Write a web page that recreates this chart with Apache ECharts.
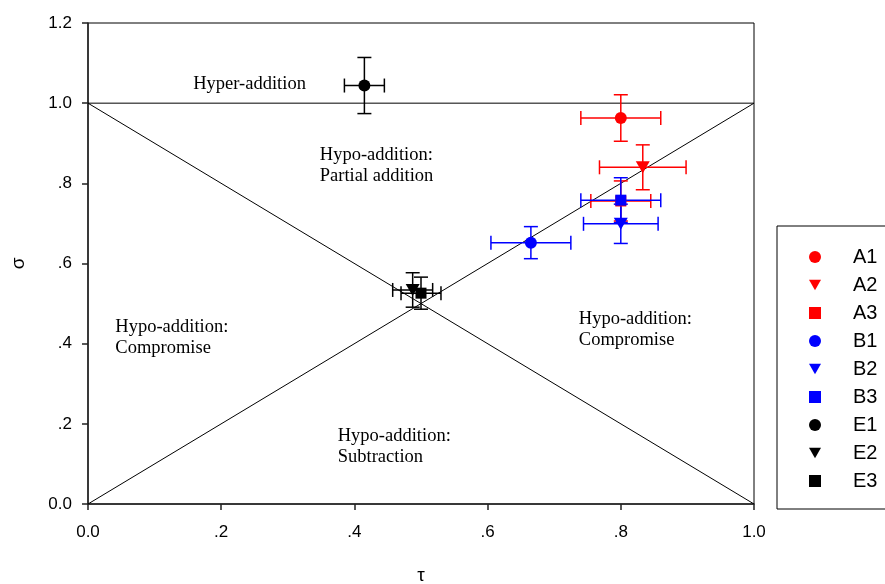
<!DOCTYPE html>
<html>
<head>
<meta charset="utf-8">
<script src="https://cdn.jsdelivr.net/npm/echarts@6/dist/echarts.min.js"></script>
<style>
  html, body { margin: 0; padding: 0; background: #fff; }
  #chart { width: 885px; height: 584px; }
</style>
</head>
<body>
<div id="chart"></div>
<script>
// Treatment groups and their mean (tau, sigma) with error half-widths
const groups = ['A1', 'A2', 'A3', 'B1', 'B2', 'B3', 'E1', 'E2', 'E3'];
const tauValues = [0.80, 0.833, 0.80, 0.665, 0.80, 0.80, 0.415, 0.4875, 0.50];
const sigmaValues = [0.963, 0.840, 0.756, 0.652, 0.699, 0.758, 1.044, 0.534, 0.526];
const tauErrors = [0.060, 0.065, 0.045, 0.060, 0.056, 0.060, 0.030, 0.030, 0.030];
const sigmaErrors = [0.058, 0.056, 0.050, 0.040, 0.049, 0.056, 0.070, 0.043, 0.040];

// Axis ticks
const xTicks = [0, 0.2, 0.4, 0.6, 0.8, 1.0];
const yTicks = [0, 0.2, 0.4, 0.6, 0.8, 1.0, 1.2];

// Boundary lines dividing the response regions
const boundaryLines = [
  [[0, 1], [1, 1]],
  [[0, 1], [1, 0]],
  [[0, 0], [1, 1]]
];

// Region annotations: [tau, sigma] of first line's left-middle, text lines
const regionLabels = [
  { at: [0.158, 1.048], lines: ['Hyper-addition'] },
  { at: [0.348, 0.871], lines: ['Hypo-addition:', 'Partial addition'] },
  { at: [0.041, 0.442], lines: ['Hypo-addition:', 'Compromise'] },
  { at: [0.737, 0.462], lines: ['Hypo-addition:', 'Compromise'] },
  { at: [0.375, 0.170], lines: ['Hypo-addition:', 'Subtraction'] }
];

const colorOf = g => g[0] === 'A' ? '#ff0000' : g[0] === 'B' ? '#0000ff' : '#000000';
const downTriangle = 'path://M0,0L10,0L5,8.66Z';
const symbolOf = g => g[1] === '1' ? 'circle' : g[1] === '2' ? downTriangle : 'rect';
const symbolSizeOf = g => g[1] === '1' ? 12 : g[1] === '2' ? [14, 12] : 11;

const fmtTick = v => {
  if (Math.abs(v) < 1e-9) return '0.0';
  if (Math.abs(v - 1) < 1e-9) return '1.0';
  if (Math.abs(v - 1.2) < 1e-9) return '1.2';
  return '.' + Math.round(v * 10);
};

function errorBarRenderer(color) {
  return function (params, api) {
    const x = api.value(0), y = api.value(1), ex = api.value(2), ey = api.value(3);
    const l = api.coord([x - ex, y]);
    const r = api.coord([x + ex, y]);
    const t = api.coord([x, y + ey]);
    const b = api.coord([x, y - ey]);
    const cap = 7;
    const style = { stroke: color, lineWidth: 1.5, fill: null };
    const seg = (x1, y1, x2, y2) => ({ type: 'line', shape: { x1, y1, x2, y2 }, style });
    return {
      type: 'group',
      children: [
        seg(l[0], l[1], r[0], r[1]),
        seg(l[0], l[1] - cap, l[0], l[1] + cap),
        seg(r[0], r[1] - cap, r[0], r[1] + cap),
        seg(t[0], t[1], b[0], b[1]),
        seg(t[0] - cap, t[1], t[0] + cap, t[1]),
        seg(b[0] - cap, b[1], b[0] + cap, b[1])
      ]
    };
  };
}

const series = [];

boundaryLines.forEach((pts, i) => {
  series.push({
    name: 'boundary' + i,
    type: 'line',
    data: pts,
    symbol: 'none',
    silent: true,
    lineStyle: { color: '#000', width: 1 },
    z: 1,
    animation: false
  });
});

series.push({
  name: 'regions',
  type: 'custom',
  silent: true,
  data: regionLabels.map(r => [r.at[0], r.at[1]]),
  renderItem: function (params, api) {
    const p = api.coord([api.value(0), api.value(1)]);
    const item = regionLabels[params.dataIndex];
    return {
      type: 'group',
      children: item.lines.map((txt, k) => ({
        type: 'text',
        x: p[0],
        y: p[1] + k * 21,
        style: {
          text: txt,
          fill: '#000',
          font: '18.5px "Liberation Serif", "Times New Roman", serif',
          textAlign: 'left',
          textVerticalAlign: 'middle'
        }
      }))
    };
  },
  z: 2,
  animation: false
});

groups.forEach((g, i) => {
  series.push({
    name: g + ' error',
    type: 'custom',
    silent: true,
    data: [[tauValues[i], sigmaValues[i], tauErrors[i], sigmaErrors[i]]],
    renderItem: errorBarRenderer(colorOf(g)),
    z: 3,
    animation: false
  });
  series.push({
    name: g,
    type: 'scatter',
    data: [[tauValues[i], sigmaValues[i]]],
    symbol: symbolOf(g),
    symbolSize: symbolSizeOf(g),
    itemStyle: { color: colorOf(g), opacity: 1 },
    z: 4,
    animation: false
  });
});

const chart = echarts.init(document.getElementById('chart'), null, { renderer: 'canvas' });
chart.setOption({
  animation: false,
  backgroundColor: '#fff',
  grid: {
    left: 88, right: 131, top: 23, bottom: 80,
    containLabel: false,
    outerBoundsMode: 'none',
    show: true, borderColor: '#000', borderWidth: 1, backgroundColor: 'transparent'
  },
  xAxis: {
    type: 'value',
    min: xTicks[0], max: xTicks[xTicks.length - 1], interval: 0.2,
    name: 'τ',
    nameLocation: 'middle',
    nameGap: 62,
    nameTextStyle: { fontSize: 19, color: '#000', fontFamily: '"Liberation Sans", Arial, sans-serif' },
    axisLine: { show: true, lineStyle: { color: '#222', width: 1.5 } },
    axisTick: { show: true, inside: false, length: 6, lineStyle: { color: '#222', width: 1.5 } },
    axisLabel: { formatter: fmtTick, fontSize: 17, color: '#000', margin: 20, fontFamily: '"Liberation Sans", Arial, sans-serif' },
    splitLine: { show: false }
  },
  yAxis: {
    type: 'value',
    min: yTicks[0], max: yTicks[yTicks.length - 1], interval: 0.2,
    name: 'σ',
    nameLocation: 'middle',
    nameGap: 60,
    nameRotate: 90,
    nameTextStyle: { fontSize: 19, color: '#000', fontFamily: '"Liberation Sans", Arial, sans-serif' },
    axisLine: { show: true, lineStyle: { color: '#222', width: 1.5 } },
    axisTick: { show: true, inside: false, length: 6, lineStyle: { color: '#222', width: 1.5 } },
    axisLabel: { formatter: fmtTick, fontSize: 17, color: '#000', margin: 16, fontFamily: '"Liberation Sans", Arial, sans-serif' },
    splitLine: { show: false }
  },
  legend: {
    data: groups.map(g => ({ name: g, icon: symbolOf(g) })),
    orient: 'vertical',
    left: 777,
    top: 226,
    padding: [21, 60, 18, 32],
    itemWidth: 12,
    itemHeight: 12,
    itemGap: 8,
    borderColor: '#000',
    borderWidth: 1,
    backgroundColor: '#fff',
    selectedMode: false,
    textStyle: {
      fontSize: 20,
      lineHeight: 18,
      color: '#000',
      fontFamily: '"Liberation Sans", Arial, sans-serif',
      padding: [0, 0, 0, 27]
    }
  },
  series: series
});
</script>
</body>
</html>
